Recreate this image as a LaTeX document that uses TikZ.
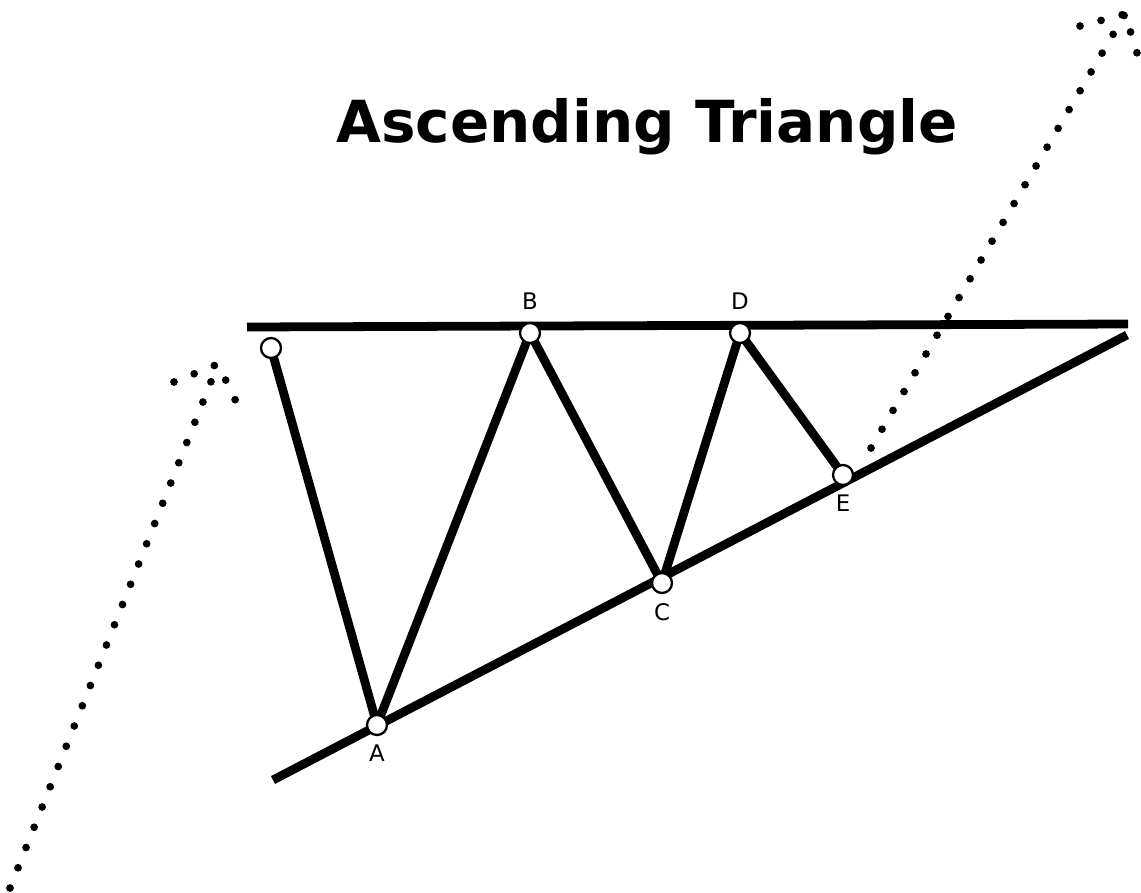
\documentclass[tikz,border=0pt]{standalone}
\usepackage{fontspec}
\setmainfont{DejaVu Sans}
\usetikzlibrary{positioning, backgrounds}

\begin{document}
\begin{tikzpicture}[x=0.02cm, y=-0.02cm,
    pivot/.style={circle, draw=black, fill=white, line width=1.3pt,
                  inner sep=0pt, minimum size=0.4cm},
    leg/.style={line width=5pt, line cap=round, line join=round},
    trend/.style={line width=5pt},
    trail/.style={line width=4.4pt, line cap=round,
                  dash pattern=on 0pt off 12.4pt},
    lbl/.style={font=\fontsize{13}{15}\selectfont, inner sep=1pt},
]
    \useasboundingbox (0,0) rectangle (1141,892);

    % === title ===
    \node[font=\fontsize{33}{38}\selectfont\bfseries] (title) at (647,127) {Ascending Triangle};

    % === pivots ===
    \node[pivot] (S) at (271,348) {};
    \node[pivot] (A) at (377,725) {};
    \node[pivot] (B) at (530,333) {};
    \node[pivot] (C) at (662,583) {};
    \node[pivot] (D) at (740,333) {};
    \node[pivot] (E) at (843,475) {};

    \node[lbl, below=4pt of A] (labA) {A};
    \node[lbl, above=6pt of B] (labB) {B};
    \node[lbl, below=4pt of C] (labC) {C};
    \node[lbl, above=6pt of D] (labD) {D};
    \node[lbl, below=4pt of E] (labE) {E};

    % === trend lines ===
    \coordinate (resL) at (247,327);
    \coordinate (resR) at (1128,324);
    \coordinate (supL) at (273,780);
    \coordinate (supR) at (1127,335);

    % === price trails ===
    \coordinate (inStart) at (10,888);
    \coordinate (inPeak) at (218,364);
    \coordinate (inHook) at (174,382);
    \coordinate (inDrop) at (240,410);
    \coordinate (outStart) at (871,448);
    \coordinate (outPeak) at (1125,14);
    \coordinate (outHook) at (1080,26);
    \coordinate (outDrop) at (1141,66);

    \begin{scope}[on background layer]
        \draw[trend] (resL) -- (resR);
        \draw[trend] (supL) -- (supR);
        \draw[leg] (S.center) -- (A.center) -- (B.center) -- (C.center) -- (D.center) -- (E.center);
        \draw[trail] (inStart) -- (inPeak);
        \draw[trail] (inHook) -- (inPeak) -- (inDrop);
        \draw[trail] (outStart) -- (outPeak);
        \draw[trail] (outHook) -- (outPeak) -- (outDrop);
    \end{scope}
\end{tikzpicture}
\end{document}
